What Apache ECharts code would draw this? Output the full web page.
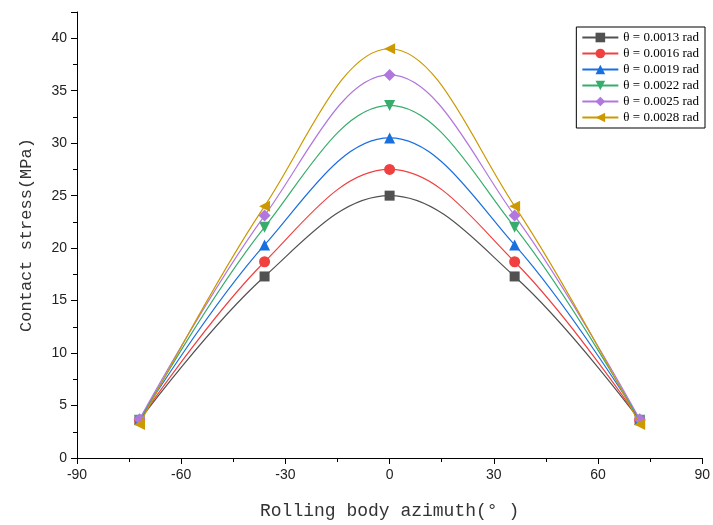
<!DOCTYPE html>
<html>
<head>
<meta charset="utf-8">
<script src="https://cdn.jsdelivr.net/npm/echarts@6/dist/echarts.min.js"></script>
<style>html,body{margin:0;padding:0;background:#fff}#c{width:713px;height:525px}</style>
</head>
<body>
<div id="c"></div>
<script>
const azimuth = [-72, -36, 0, 36, 72];
const s0013 = [3.6, 17.3, 25.0, 17.3, 3.6];
const s0016 = [3.6, 18.7, 27.5, 18.7, 3.6];
const s0019 = [3.7, 20.3, 30.5, 20.3, 3.7];
const s0022 = [3.6, 22.0, 33.6, 22.0, 3.6];
const s0025 = [3.7, 23.1, 36.5, 23.1, 3.7];
const s0028 = [3.2, 24.0, 39.0, 24.0, 3.2];
const seriesNames = ['θ = 0.0013 rad','θ = 0.0016 rad','θ = 0.0019 rad','θ = 0.0022 rad','θ = 0.0025 rad','θ = 0.0028 rad'];
const seriesValues = [s0013, s0016, s0019, s0022, s0025, s0028];
const colors = ['#515151','#F14040','#1A6FDF','#37AD6B','#B177DE','#CC9900'];
const symbols = ['rect','circle','triangle','triangle','diamond','triangle'];
const rotations = [0,0,0,180,0,90];
const sizes = [10,11,11,11,12,11];

const chart = echarts.init(document.getElementById('c'));
const series = seriesValues.map((vals, i) => ({
  name: seriesNames[i],
  type: 'line',
  smooth: 0.38,
  data: azimuth.map((x, j) => [x, vals[j]]),
  symbol: symbols[i],
  symbolRotate: rotations[i],
  symbolSize: sizes[i],
  showAllSymbol: true,
  itemStyle: {color: colors[i]},
  lineStyle: {color: colors[i], width: 1.2},
  z: 2 + i
}));
const axisFont = {fontFamily: 'Liberation Sans', fontSize: 14, color: '#222'};
chart.setOption({
  animation: false,
  color: colors,
  grid: {left: 77, right: 4, top: 12, bottom: 67, containLabel: false},
  legend: {
    orient: 'vertical',
    right: 8, top: 27,
    padding: [4, 6, 4, 5],
    borderColor: '#000', borderWidth: 1,
    itemWidth: 36, itemHeight: 12, itemGap: 3,
    textStyle: {fontFamily: 'Liberation Serif', fontSize: 13, color: '#000'},
    data: seriesNames
  },
  xAxis: {
    type: 'value', min: -90, max: 90, interval: 30,
    name: 'Rolling body azimuth(° )', nameLocation: 'middle', nameGap: 44,
    nameTextStyle: {fontFamily: 'Liberation Mono', fontSize: 18, color: '#333'},
    axisLine: {show: true, onZero: false, lineStyle: {color: '#000', width: 1}},
    axisTick: {show: true, inside: false, length: 6, lineStyle: {color: '#000'}},
    minorTick: {show: true, splitNumber: 2, length: 4, lineStyle: {color: '#000'}},
    splitLine: {show: false},
    axisLabel: Object.assign({margin: 10}, axisFont)
  },
  yAxis: {
    type: 'value', min: 0, max: 42.5, interval: 5,
    name: 'Contact stress(MPa)', nameLocation: 'middle', nameGap: 42,
    nameTextStyle: {fontFamily: 'Liberation Mono', fontSize: 17, color: '#333'},
    axisLine: {show: true, onZero: false, lineStyle: {color: '#000', width: 1}},
    axisTick: {show: true, inside: false, length: 6, lineStyle: {color: '#000'}},
    minorTick: {show: true, splitNumber: 2, length: 4, lineStyle: {color: '#000'}},
    splitLine: {show: false},
    axisLabel: Object.assign({margin: 10, showMaxLabel: false}, axisFont)
  },
  series: series
});
</script>
</body>
</html>
